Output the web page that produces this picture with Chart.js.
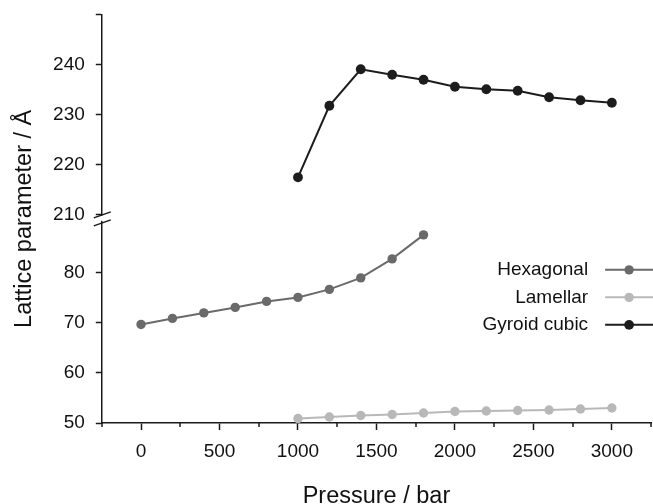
<!DOCTYPE html>
<html>
<head>
<meta charset="utf-8">
<script src="https://cdn.jsdelivr.net/npm/chart.js@4"></script>
<style>
  html, body { margin: 0; padding: 0; background: #fff; overflow: hidden; }
  #wrap { width: 656px; height: 504px; }
</style>
</head>
<body>
<div id="wrap"><canvas id="latticeChart"></canvas></div>
<script>
// Pressure (bar) and lattice parameter (Å) for each phase
const hexPressure = [0, 200, 400, 600, 800, 1000, 1200, 1400, 1600, 1800];
const hexValues = [69.7, 70.9, 72.0, 73.1, 74.3, 75.1, 76.7, 79.0, 82.8, 87.6];

const lamPressure = [1000, 1200, 1400, 1600, 1800, 2000, 2200, 2400, 2600, 2800, 3000];
const lamValues = [50.9, 51.2, 51.5, 51.7, 52.0, 52.3, 52.4, 52.5, 52.6, 52.8, 53.0];

const gyrPressure = [1000, 1200, 1400, 1600, 1800, 2000, 2200, 2400, 2600, 2800, 3000];
const gyrValues = [217.5, 231.8, 239.1, 238.0, 237.0, 235.6, 235.1, 234.8, 233.5, 232.9, 232.4];

// tick labels
const xTickLabels = [0, 500, 1000, 1500, 2000, 2500, 3000];
const xMinorTicks = [-250, 250, 750, 1250, 1750, 2250, 2750, 3250];
const lowerTickLabels = [50, 60, 70, 80];
const upperTickLabels = [210, 220, 230, 240];
const upperTickMarks = [210, 220, 230, 240, 250];

const FONT = '"Liberation Sans", Arial, sans-serif';
const AXIS = '#1a1a1a';

function toPoints(xs, ys) {
  return xs.map((x, i) => ({ x: x, y: ys[i] }));
}

// short ticks between the labelled ones on the pressure axis
const minorTicks = {
  id: 'minorTicks',
  afterDraw(chart) {
    const ctx = chart.ctx;
    const xs = chart.scales.x;
    ctx.save();
    ctx.strokeStyle = AXIS;
    ctx.lineWidth = 1.5;
    xMinorTicks.forEach(v => {
      const px = Math.round(xs.getPixelForValue(v));
      ctx.beginPath();
      ctx.moveTo(px, xs.top);
      ctx.lineTo(px, xs.top + 4);
      ctx.stroke();
    });
    ctx.restore();
  }
};

// the // marks where the two y ranges meet
const axisBreak = {
  id: 'axisBreak',
  afterDraw(chart) {
    const ctx = chart.ctx;
    const y = chart.scales.yLower.top + 4;
    const x = chart.scales.yLower.right;
    ctx.save();
    ctx.fillStyle = '#fff';
    ctx.fillRect(x - 3, y - 3, 6, 5);
    ctx.strokeStyle = AXIS;
    ctx.lineWidth = 1.5;
    [-4, 4].forEach(dy => {
      ctx.beginPath();
      ctx.moveTo(x - 8, y + dy + 3);
      ctx.lineTo(x + 9, y + dy - 3);
      ctx.stroke();
    });
    ctx.restore();
  }
};

// legend with the label on the left and the line sample on the right
const sideLegend = {
  id: 'sideLegend',
  afterDraw(chart) {
    const ctx = chart.ctx;
    const area = chart.chartArea;
    const textRight = area.right - 63;
    const lineLeft = area.right - 46;
    const lineRight = area.right + 2;
    const top = chart.scales.yLower.top + 55;
    ctx.save();
    ctx.font = '19px ' + FONT;
    ctx.textAlign = 'right';
    ctx.textBaseline = 'middle';
    chart.data.datasets.forEach((ds, i) => {
      const y = top + i * 27.5;
      ctx.fillStyle = '#111';
      ctx.fillText(ds.label, textRight, y);
      ctx.strokeStyle = ds.borderColor;
      ctx.lineWidth = ds.borderWidth;
      ctx.beginPath();
      ctx.moveTo(lineLeft, y);
      ctx.lineTo(lineRight, y);
      ctx.stroke();
      ctx.fillStyle = ds.pointBackgroundColor;
      ctx.beginPath();
      ctx.arc((lineLeft + lineRight) / 2, y, ds.pointRadius, 0, Math.PI * 2);
      ctx.fill();
    });
    ctx.restore();
  }
};

const ctx = document.getElementById('latticeChart').getContext('2d');
new Chart(ctx, {
  type: 'line',
  data: {
    datasets: [
      {
        label: 'Hexagonal',
        data: toPoints(hexPressure, hexValues),
        xAxisID: 'x',
        yAxisID: 'yLower',
        borderColor: '#6a6a6a',
        backgroundColor: '#6a6a6a',
        pointBackgroundColor: '#6a6a6a',
        pointBorderWidth: 0,
        borderWidth: 2,
        pointRadius: 4.7,
        tension: 0,
      },
      {
        label: 'Lamellar',
        data: toPoints(lamPressure, lamValues),
        xAxisID: 'x',
        yAxisID: 'yLower',
        borderColor: '#b8b8b8',
        backgroundColor: '#b8b8b8',
        pointBackgroundColor: '#b8b8b8',
        pointBorderWidth: 0,
        borderWidth: 2,
        pointRadius: 4.7,
        tension: 0,
      },
      {
        label: 'Gyroid cubic',
        data: toPoints(gyrPressure, gyrValues),
        xAxisID: 'x',
        yAxisID: 'yUpper',
        borderColor: '#1c1c1c',
        backgroundColor: '#1c1c1c',
        pointBackgroundColor: '#1c1c1c',
        pointBorderWidth: 0,
        borderWidth: 2,
        pointRadius: 4.9,
        tension: 0,
      },
    ],
  },
  options: {
    responsive: true,
    maintainAspectRatio: false,
    animation: false,
    layout: { padding: { top: 14.7, right: 0, bottom: 0, left: 0 } },
    scales: {
      x: {
        type: 'linear',
        min: -250,
        max: 3250,
        border: { color: AXIS, width: 1.5 },
        grid: { drawOnChartArea: false, tickLength: 7, tickColor: AXIS, tickWidth: 1.5 },
        afterBuildTicks: function(scale) {
          scale.ticks = xTickLabels.map(v => ({ value: v }));
        },
        ticks: {
          padding: 10,
          color: '#111',
          font: { family: FONT, size: 19 },
          callback: function(value) { return String(value); },
        },
        title: {
          display: true,
          text: 'Pressure / bar',
          color: '#111',
          font: { family: FONT, size: 23.5, lineHeight: 0.65 },
          padding: { top: 0, bottom: 0 },
        },
        afterFit: function(scale) {
          scale.height = 81;
          scale.paddingRight = 0;
        },
      },
      yUpper: {
        type: 'linear',
        position: 'left',
        stack: 'lattice',
        stackWeight: 40,
        weight: 1,
        min: 210,
        max: 250,
        border: { color: AXIS, width: 1.5 },
        grid: { drawOnChartArea: false, tickLength: 6, tickColor: AXIS, tickWidth: 1.5 },
        afterBuildTicks: function(scale) {
          scale.ticks = upperTickMarks.map(v => ({ value: v }));
        },
        ticks: {
          padding: 11,
          color: '#111',
          font: { family: FONT, size: 19 },
          callback: function(value) {
            return upperTickLabels.includes(value) ? value : '';
          },
        },
        afterFit: function(scale) {
          scale.width = 60.6;
          scale.paddingTop = 0;
          scale.paddingBottom = 0;
        },
      },
      yLower: {
        type: 'linear',
        position: 'left',
        stack: 'lattice',
        stackWeight: 41.6,
        weight: 0,
        min: 50,
        max: 91.6,
        border: { color: AXIS, width: 1.5 },
        grid: { drawOnChartArea: false, tickLength: 6, tickColor: AXIS, tickWidth: 1.5 },
        afterBuildTicks: function(scale) {
          scale.ticks = lowerTickLabels.map(v => ({ value: v }));
        },
        ticks: {
          padding: 11,
          color: '#111',
          font: { family: FONT, size: 19 },
        },
        afterFit: function(scale) {
          scale.width = 60.6;
          scale.paddingTop = 0;
        },
      },
    },
    plugins: {
      legend: { display: false },
      tooltip: { enabled: false },
      title: {
        display: true,
        position: 'left',
        fullSize: false,
        text: 'Lattice parameter / Å',
        color: '#111',
        font: { family: FONT, size: 23.5, weight: 'normal' },
        padding: { top: 10, bottom: 3 },
      },
    },
  },
  plugins: [minorTicks, axisBreak, sideLegend],
});
</script>
</body>
</html>
